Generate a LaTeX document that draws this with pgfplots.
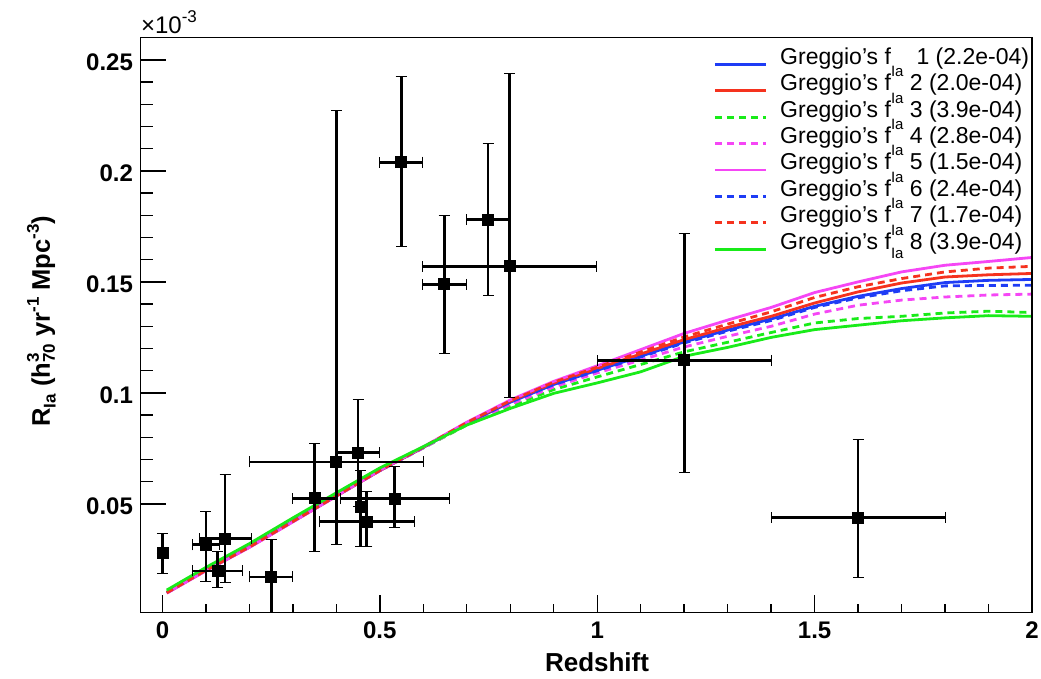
\documentclass[border=0pt]{standalone}
\usepackage{fontspec}
\setmainfont{Liberation Sans}
\usepackage{pgfplots}
\usepackage{pgfplotstable}
\pgfplotsset{compat=1.18}

\definecolor{rblue}{RGB}{30,60,245}
\definecolor{rred}{RGB}{245,50,30}
\definecolor{rgreen}{RGB}{25,235,25}
\definecolor{rmag}{RGB}{245,70,245}

% data points: x, y, x error, y error plus, y error minus (units of 1e-3)
\pgfplotstableread{
x      y       ex     eyp     eym
0.000  0.0278  0.000  0.0090  0.0090
0.100  0.0316  0.030  0.0151  0.0163
0.127  0.0198  0.057  0.0086  0.0072
0.144  0.0344  0.060  0.0290  0.0197
0.250  0.0171  0.050  0.0170  0.0160
0.350  0.0526  0.050  0.0247  0.0239
0.400  0.0689  0.200  0.1584  0.0371
0.450  0.0730  0.050  0.0240  0.0240
0.456  0.0486  0.000  0.0163  0.0176
0.470  0.0419  0.110  0.0138  0.0109
0.534  0.0524  0.125  0.0146  0.0132
0.549  0.2039  0.050  0.0388  0.0379
0.648  0.1489  0.050  0.0311  0.0310
0.749  0.1781  0.050  0.0342  0.0341
0.799  0.1570  0.200  0.0870  0.0588
1.200  0.1147  0.200  0.0572  0.0507
1.600  0.0439  0.200  0.0351  0.0271
}\points

% model curves
\pgfplotstableread{
x     c1      c2      c3      c4      c5      c6      c7      c8
0.01  0.0100  0.0099  0.0103  0.0099  0.0098  0.0101  0.0100  0.0112
0.1   0.0201  0.0200  0.0204  0.0200  0.0199  0.0202  0.0201  0.0214
0.2   0.0306  0.0305  0.0309  0.0305  0.0304  0.0307  0.0306  0.0321
0.3   0.0421  0.0420  0.0424  0.0420  0.0419  0.0422  0.0421  0.0437
0.4   0.0536  0.0535  0.0538  0.0535  0.0535  0.0537  0.0536  0.0550
0.5   0.0650  0.0650  0.0651  0.0649  0.0651  0.0651  0.0651  0.0662
0.6   0.0754  0.0755  0.0752  0.0752  0.0757  0.0755  0.0756  0.0758
0.7   0.0862  0.0865  0.0855  0.0858  0.0868  0.0863  0.0866  0.0855
0.8   0.0958  0.0963  0.0940  0.0948  0.0968  0.0958  0.0964  0.0930
0.9   0.1038  0.1045  0.1015  0.1027  0.1052  0.1037  0.1048  0.0998
1.0   0.1102  0.1110  0.1072  0.1090  0.1122  0.1100  0.1116  0.1045
1.1   0.1165  0.1175  0.1128  0.1148  0.1195  0.1162  0.1184  0.1095
1.2   0.1230  0.1240  0.1185  0.1207  0.1268  0.1225  0.1252  0.1165
1.3   0.1283  0.1295  0.1228  0.1255  0.1328  0.1278  0.1310  0.1205
1.4   0.1333  0.1345  0.1272  0.1300  0.1385  0.1326  0.1365  0.1250
1.5   0.1390  0.1405  0.1315  0.1355  0.1452  0.1385  0.1430  0.1285
1.6   0.1435  0.1455  0.1335  0.1395  0.1500  0.1428  0.1478  0.1305
1.7   0.1470  0.1495  0.1345  0.1418  0.1545  0.1460  0.1515  0.1325
1.8   0.1497  0.1522  0.1360  0.1432  0.1575  0.1482  0.1545  0.1338
1.9   0.1507  0.1532  0.1368  0.1441  0.1592  0.1484  0.1562  0.1348
2.0   0.1511  0.1538  0.1362  0.1445  0.1610  0.1485  0.1570  0.1345
}\curves

\newcommand{\supla}{\raisebox{7pt}{\fontsize{7.5}{8}\selectfont Ia}}
\newcommand{\subla}{\raisebox{-4.6pt}{\fontsize{7.5}{8}\selectfont Ia}}
\newcommand{\ssb}[2]{\rlap{\raisebox{5.5pt}{\fontsize{8.5}{9}\selectfont #1}}\raisebox{-2.5pt}{\fontsize{8.5}{9}\selectfont #2}}

\begin{document}
\begin{tikzpicture}
\path[use as bounding box] (-70.35pt,-33.15pt) rectangle (450.15pt,306.35pt);
\pgfplotsset{
  common/.style={at={(0pt,0pt)}, anchor=south west, scale only axis,
    width=445.65pt, height=287.5pt,
    xmin=-0.05, xmax=2, ymin=0.001, ymax=0.26,
    tick align=inside, scaled ticks=false,
    axis line style={line width=0.7pt, black},
    every tick/.append style={black, line width=0.7pt}},
}
\begin{axis}[common,
  xtick=\empty,
  ytick={0.05,0.1,0.15,0.2,0.25},
  yticklabels={0.05,0.1,0.15,0.2,0.25},
  minor y tick num=4, ytick pos=left,
  major tick length=12.5pt, minor tick length=6.3pt,
  yticklabel style={font=\bfseries\fontsize{12}{12}\selectfont, inner sep=0pt, xshift=-3.7pt, yshift=-1.3pt},
  ylabel={R\raisebox{-2.8pt}{\fontsize{8.5}{9}\selectfont Ia} (h\ssb{3}{70} yr\raisebox{5.5pt}{\fontsize{8.5}{9}\selectfont -1} Mpc\raisebox{5.5pt}{\fontsize{8.5}{9}\selectfont -3})},
  every axis y label/.style={at={(axis description cs:-0.1018,0.507)}, rotate=90, anchor=base, font=\bfseries\fontsize{12.75}{13}\selectfont},
  legend cell align=left,
  legend style={at={(rel axis cs:0.6421,0.9856)}, anchor=north west, draw=none, fill=none,
    inner sep=0pt, row sep=0pt, column sep=6.5pt,
    font=\fontsize{11.5}{12}\selectfont,
    nodes={inner sep=0pt, text height=9pt, text depth=4.2pt, anchor=base west}},
  legend image code/.code={\draw[#1] (0pt,0pt) -- (25.5pt,0pt);},
]
\addplot[rblue, line width=1.4pt] table[x=x, y=c1] {\curves};
\addlegendentry{Greggio’s f\phantom{Ia} 1 (2.2e-04)}
\addplot[rred, line width=1.4pt] table[x=x, y=c2] {\curves};
\addlegendentry{Greggio’s f\supla{} 2 (2.0e-04)}
\addplot[rgreen, line width=1.4pt, dash pattern=on 3.5pt off 2.5pt] table[x=x, y=c3] {\curves};
\addlegendentry{Greggio’s f\supla{} 3 (3.9e-04)}
\addplot[rmag, line width=1.4pt, dash pattern=on 3.5pt off 2.5pt] table[x=x, y=c4] {\curves};
\addlegendentry{Greggio’s f\supla{} 4 (2.8e-04)}
\addplot[rmag, line width=1.4pt] table[x=x, y=c5] {\curves};
\addlegendentry{Greggio’s f\supla{} 5 (1.5e-04)}
\addplot[rblue, line width=1.4pt, dash pattern=on 3.5pt off 2.5pt] table[x=x, y=c6] {\curves};
\addlegendentry{Greggio’s f\supla{} 6 (2.4e-04)}
\addplot[rred, line width=1.4pt, dash pattern=on 3.5pt off 2.5pt] table[x=x, y=c7] {\curves};
\addlegendentry{Greggio’s f\supla{} 7 (1.7e-04)}
\addplot[rgreen, line width=1.4pt] table[x=x, y=c8] {\curves};
\addlegendentry{Greggio’s f\rlap{\supla}\subla{} 8 (3.9e-04)}

\addplot[only marks, mark=square*, mark size=2.75pt, black, forget plot,
  error bars/.cd, x dir=both, x explicit, y dir=both, y explicit,
  error bar style={line width=1.4pt, black}]
  table[x=x, y=y, x error=ex, y error plus=eyp, y error minus=eym] {\points};
\end{axis}

\begin{axis}[common,
  ytick=\empty,
  xtick={0,0.5,1,1.5,2}, xticklabels={0,0.5,1,1.5,2},
  minor x tick num=4, xtick pos=bottom,
  major tick length=8.8pt, minor tick length=4.3pt,
  xticklabel style={font=\bfseries\fontsize{12}{12}\selectfont, inner sep=0pt, yshift=-4.5pt},
  xlabel={Redshift},
  every axis x label/.style={at={(axis description cs:0.512,0)}, anchor=base, yshift=-29.6pt, font=\bfseries\fontsize{13}{13}\selectfont},
]
\end{axis}
\node[anchor=base west, inner sep=0pt, font=\fontsize{12}{13}\selectfont]
  at (0pt,289.6pt) {×10\raisebox{5.4pt}{\fontsize{8.5}{9}\selectfont -3}};
\end{tikzpicture}
\end{document}
